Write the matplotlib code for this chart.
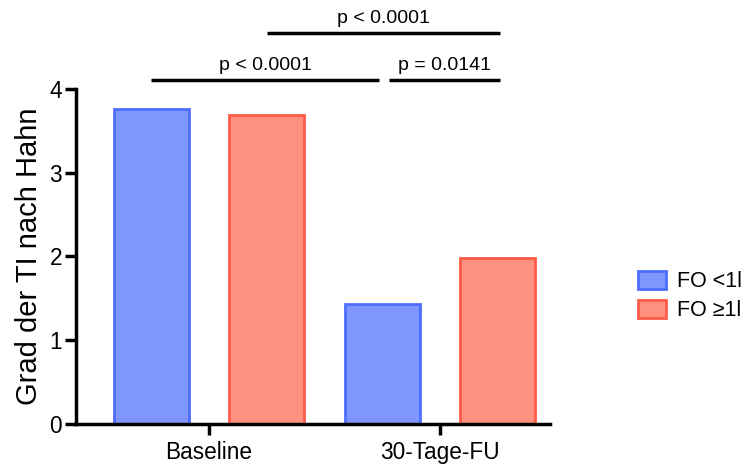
import matplotlib.pyplot as plt
from matplotlib.patches import Patch
import numpy as np

plt.rcParams['font.family'] = ['Liberation Sans', 'DejaVu Sans']

# data
categories = ['Baseline', '30-Tage-FU']
groups = ['FO <1l', 'FO \u22651l']
fo_low = [3.76, 1.43]
fo_high = [3.69, 1.98]
pvalues = ['p < 0.0001', 'p = 0.0141', 'p < 0.0001']

FILL = ['#8096FF', '#FF9180']
EDGE = ['#4D6DFF', '#FF5B47']

fig = plt.figure(figsize=(7.55, 4.66), dpi=100)
ax = fig.add_axes([0.1007, 0.0901, 0.628, 0.719])

x = np.arange(len(categories))
width = 0.325
offset = 0.25
ax.bar(x - offset, fo_low, width, color=FILL[0], edgecolor=EDGE[0], linewidth=2)
ax.bar(x + offset, fo_high, width, color=FILL[1], edgecolor=EDGE[1], linewidth=2)

ax.set_xlim(-0.576, 1.476)
ax.set_ylim(0, 4)
ax.set_yticks([0, 1, 2, 3, 4])
ax.set_xticks(x)
ax.set_xticklabels(categories, fontsize=16.3)
ax.tick_params(axis='y', labelsize=16.3, width=2.5, length=8, pad=2)
ax.tick_params(axis='x', width=2.5, length=8, pad=4)
ax.set_ylabel('Grad der TI nach Hahn', fontsize=21, labelpad=5)
for s in ['top', 'right']:
    ax.spines[s].set_visible(False)
for s in ['left', 'bottom']:
    ax.spines[s].set_linewidth(2.5)

# significance brackets
def sig_line(x1, x2, y, text):
    ax.plot([x1, x2], [y, y], color='black', lw=2.5, clip_on=False,
            solid_capstyle='butt')
    ax.text((x1 + x2) / 2, y + 0.07, text, ha='center', va='bottom',
            fontsize=14)

sig_line(x[0] - offset, x[1] - offset - 0.015, 4.11, pvalues[0])
sig_line(x[1] - offset + 0.03, x[1] + offset + 0.01, 4.11, pvalues[1])
sig_line(x[0] + offset, x[1] + offset + 0.01, 4.67, pvalues[2])

handles = [Patch(facecolor=FILL[i], edgecolor=EDGE[i], linewidth=2) for i in range(2)]
fig.legend(handles, groups, loc='center left', bbox_to_anchor=(0.833, 0.365),
           frameon=False, fontsize=15.5, handlelength=1.3, handleheight=0.9,
           handletextpad=0.55, labelspacing=0.35, borderaxespad=0)

fig.savefig('out.png', dpi=100)
